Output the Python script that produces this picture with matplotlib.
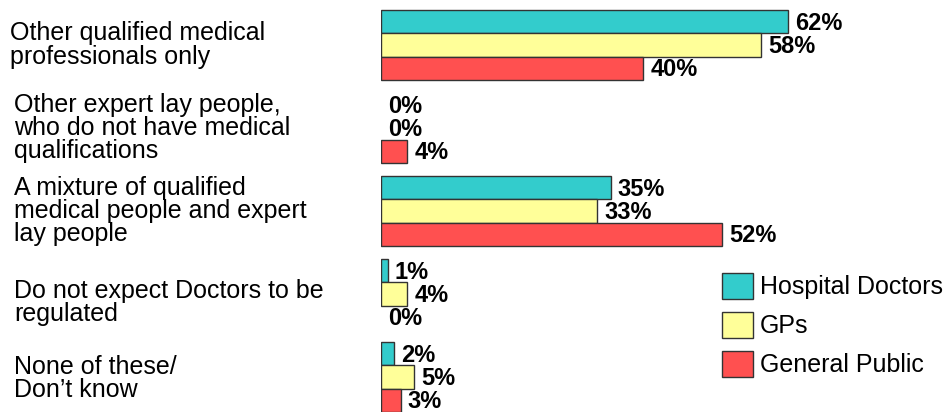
import matplotlib
matplotlib.use("Agg")
import matplotlib.pyplot as plt
import matplotlib.transforms as mtransforms
from matplotlib.patches import Patch

plt.rcParams['font.family'] = ['Liberation Sans', 'DejaVu Sans']

categories = [
    "Other qualified medical\nprofessionals only",
    "Other expert lay people,\nwho do not have medical\nqualifications",
    "A mixture of qualified\nmedical people and expert\nlay people",
    "Do not expect Doctors to be\nregulated",
    "None of these/\nDon\u2019t know",
]
series_names = ["Hospital Doctors", "GPs", "General Public"]
hospital = [62, 0, 35, 1, 2]
gps = [58, 0, 33, 4, 5]
public = [40, 4, 52, 0, 3]
series_values = [hospital, gps, public]
colors = ["#33CCCC", "#FFFF99", "#FF5050"]

W, H = 948, 412
fig = plt.figure(figsize=(W / 100, H / 100), dpi=100)

px_per_unit = 6.56
x_left = 381
xmax = 85
ax = fig.add_axes([x_left / W, 0, xmax * px_per_unit / W, 1])
spacing = 83.0
top_center = 45.0
ax.set_xlim(0, xmax)
ax.set_ylim((H - top_center) / spacing, -top_center / spacing)
ax.axis('off')

h = 23.2 / spacing
offsets = [-h, 0, h]
for vals, col, off, name in zip(series_values, colors, offsets, series_names):
    ys = [i + off for i in range(len(categories))]
    lws = [1.0 if v > 0 else 0.0 for v in vals]
    ax.barh(ys, vals, height=h, color=col, edgecolor="#333333",
            linewidth=lws, label=name)
    for y, v in zip(ys, vals):
        ax.annotate(f"{v}%", xy=(v, y), xytext=(7, -1.5), textcoords='offset pixels',
                    ha='left', va='center', fontsize=17, fontweight='bold',
                    color='black')

trans = mtransforms.blended_transform_factory(fig.transFigure, ax.transData)
label_x = [10, 14, 14, 14, 14]
label_dy = [0.0, 0.0, 0.0, 0.10, 0.02]
for i, (cat, lx) in enumerate(zip(categories, label_x)):
    ax.text(lx / W, i + label_dy[i], cat, transform=trans, ha='left', va='center',
            fontsize=18, linespacing=0.95, color='black')

handles = [Patch(facecolor=c, edgecolor="#333333", linewidth=1.0) for c in colors]
fig.legend(handles, series_names, loc='upper left',
           bbox_to_anchor=(722 / W, 1 - 273 / H), frameon=False, fontsize=18,
           handlelength=1.22, handleheight=1.22, handletextpad=0.3,
           labelspacing=0.5, borderpad=0, borderaxespad=0)

fig.savefig("out.png", dpi=100)
